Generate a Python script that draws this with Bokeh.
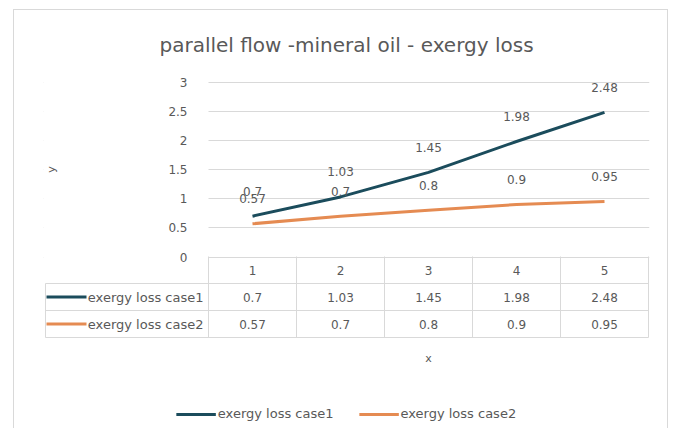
import math
from bokeh.plotting import figure
from bokeh.layouts import column
from bokeh.models import (Range1d, FixedTicker, NumeralTickFormatter, Legend,
                          LegendItem, BoxAnnotation)
from bokeh.embed import file_html
from bokeh.resources import INLINE
from bokeh.core.properties import value

# ---------------- data ----------------
title_text = "parallel flow -mineral oil - exergy loss"
categories = [1, 2, 3, 4, 5]
case1 = [0.7, 1.03, 1.45, 1.98, 2.48]
case2 = [0.57, 0.7, 0.8, 0.9, 0.95]
series_names = ["exergy loss case1", "exergy loss case2"]
y_ticks = [0, 0.5, 1, 1.5, 2, 2.5, 3]
x_label = "x"
y_label = "y"

# ---------------- layout constants (pixels) ----------------
C1 = "#1b4c5c"
C2 = "#e58b52"
TXT = "#595959"
GRID = "#d9d9d9"
FONT = "DejaVu Sans"
W, H = 653, 418          # figure size (inside the outer border)
OX, OY = 14, 10          # page position of the figure
FL, FR = 43, 649         # frame left / right (page px)
FT, FB = 72, 427         # frame top / bottom (page px)
PLOT_L = 208             # left edge of the plotting area (page px)
Y0, Y3 = 256.5, 81.5     # page px of y=0 and y=3
ROW = 27.0               # table row height
ROW0 = 269.5             # centre of the table header row (page px)

PX = (FR - 1 - PLOT_L) / len(categories)           # px per category
x_start = 0.5 - (PLOT_L - FL) / PX
x_end = len(categories) + 0.5 + (FR - (PLOT_L + PX * len(categories))) / PX
UY = (Y0 - Y3) / (max(y_ticks) - min(y_ticks))     # px per y unit
y_end = max(y_ticks) + (Y3 - FT) / UY
y_start = 0 - (FB - Y0) / UY
t_top = 0 - (ROW0 - FT) / ROW
t_bot = 0 + (FB - ROW0) / ROW

p = figure(width=W, height=H, x_range=Range1d(x_start, x_end),
           y_range=Range1d(y_start, y_end),
           output_backend="svg", toolbar_location=None, x_axis_location=None,
           min_border_left=FL - OX, min_border_right=OX + W - FR,
           min_border_top=FT - OY, min_border_bottom=OY + H - FB)
p.extra_y_ranges = {"table": Range1d(t_bot, t_top)}
p.outline_line_color = None
p.xgrid.visible = False
p.ygrid.ticker = FixedTicker(ticks=y_ticks)
p.ygrid.grid_line_color = GRID

# white mask: gridlines only over the plotting area
p.add_layout(BoxAnnotation(right=0.5, bottom=-0.05, fill_color="white", fill_alpha=1,
                           line_color=None, level="underlay"))

ax = p.yaxis[0]
ax.fixed_location = 0.5
ax.ticker = FixedTicker(ticks=y_ticks)
ax.formatter = NumeralTickFormatter(format="0.[0]")
ax.axis_line_color = None
ax.major_tick_line_color = None
ax.minor_tick_line_color = None
ax.major_label_standoff = 15
ax.major_label_text_font = FONT
ax.major_label_text_font_size = "12px"
ax.major_label_text_color = TXT

# y axis title (placed beside the plotting area, centred on the value scale)
p.text(x=[x_start], y=[(min(y_ticks) + max(y_ticks)) / 2], text=[y_label],
       x_offset=8, angle=math.pi / 2, text_align="center", text_baseline="middle",
       text_font=value(FONT), text_font_size="11px", text_color=TXT)

p.title.text = title_text
p.title.align = "center"
p.title.text_font = FONT
p.title.text_font_size = "20px"
p.title.text_font_style = "normal"
p.title.text_color = TXT
p.title.standoff = 31

for vals, col in ((case1, C1), (case2, C2)):
    p.line(categories, vals, line_color=col, line_width=3)
for vals in (case1, case2):
    p.text(x=categories, y=vals, text=[f"{v:g}" for v in vals],
           text_align="center", text_baseline="middle", y_offset=-25,
           text_font=value(FONT), text_font_size="12px", text_color=TXT)

# ---------------- data table ----------------
n = len(categories)
x_left = 0.5 - (PLOT_L - 1 - FL - 1) / PX
bounds = [c - 0.5 for c in categories] + [categories[-1] + 0.5]
rows = list(range(len(series_names) + 1))  # 0 header, 1.. series
p.segment(x0=bounds, y0=[-0.5] * len(bounds), x1=bounds, y1=[rows[-1] + 0.5] * len(bounds),
          line_color=GRID, line_width=1, y_range_name="table")
p.segment(x0=[x_left], y0=[0.5], x1=[x_left], y1=[rows[-1] + 0.5],
          line_color=GRID, line_width=1, y_range_name="table")
hy = [r + 0.5 for r in rows]
p.segment(x0=[x_left] * len(hy), y0=hy, x1=[bounds[-1]] * len(hy), y1=hy,
          line_color=GRID, line_width=1, y_range_name="table")

tkw = dict(text_align="center", text_baseline="middle", text_font=value(FONT),
           text_font_size="12px", text_color=TXT, y_range_name="table")
p.text(x=categories, y=[0] * n, text=[str(c) for c in categories], **tkw)
swatches = []
for i, (vals, col, name) in enumerate(zip((case1, case2), (C1, C2), series_names), start=1):
    p.text(x=categories, y=[i] * n, text=[f"{v:g}" for v in vals], **tkw)
    p.text(x=[0.5], y=[i], text=[name], x_offset=-5, text_align="right",
           text_baseline="middle", text_font=value(FONT), text_font_size="13px",
           text_color=TXT, y_range_name="table")
    sw = p.segment(x0=[x_left + 1 / PX], y0=[i], x1=[x_left + 41 / PX], y1=[i],
                   line_color=col, line_width=3, y_range_name="table")
    swatches.append((name, sw))

# x axis title, centred under the categories
p.text(x=[sum(categories) / n], y=[rows[-1] + 0.5], text=[x_label], y_offset=21,
       text_align="center", text_baseline="middle", text_font=value(FONT),
       text_font_size="11px", text_color=TXT, y_range_name="table")

legend = Legend(items=[LegendItem(label=nm, renderers=[r]) for nm, r in swatches],
                orientation="horizontal", location="bottom_center",
                glyph_width=40, glyph_height=12, label_standoff=2, spacing=25,
                padding=0, margin=6, border_line_color=None,
                background_fill_alpha=0,
                label_text_font=FONT, label_text_font_size="13px",
                label_text_color=TXT)
p.add_layout(legend, "center")

layout = column(p, margin=(OY - 1, 0, 0, OX - 1),
                styles={"border": "1px solid #d9d9d9", "border-bottom": "none"})

open("out.html", "w").write(file_html(layout, INLINE))
